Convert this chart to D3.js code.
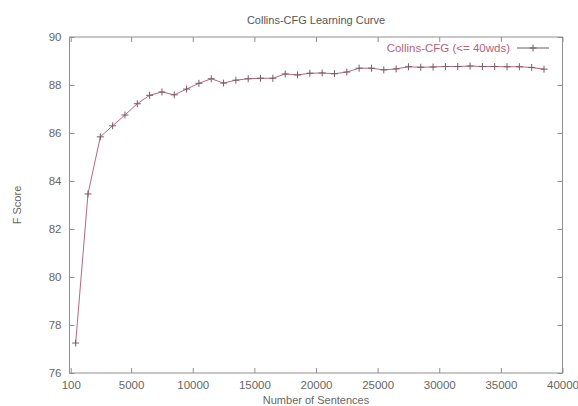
<!DOCTYPE html>
<html><head><meta charset="utf-8">
<script src="https://cdn.jsdelivr.net/npm/d3@7"></script>
<style>body{margin:0;background:#fff}svg text{font-family:"Liberation Sans",Arial,sans-serif}</style>
</head><body><svg id="c" width="578" height="406"></svg>
<script>
const sentences = [500,1500,2500,3500,4500,5500,6500,7500,8500,9500,10500,11500,12500,13500,14500,15500,16500,17500,18500,19500,20500,21500,22500,23500,24500,25500,26500,27500,28500,29500,30500,31500,32500,33500,34500,35500,36500,37500,38500];
const fscore = [77.25,83.46,85.84,86.30,86.75,87.22,87.57,87.71,87.59,87.83,88.07,88.26,88.08,88.20,88.26,88.28,88.28,88.46,88.42,88.49,88.50,88.47,88.54,88.70,88.70,88.63,88.67,88.76,88.74,88.75,88.77,88.77,88.79,88.77,88.77,88.76,88.76,88.73,88.66];
const xTicks = [100,5000,10000,15000,20000,25000,30000,35000,40000];
const yTicks = [76,78,80,82,84,86,88,90];
const title = "Collins-CFG Learning Curve";
const xTitle = "Number of Sentences";
const yTitle = "F Score";
const seriesName = "Collins-CFG (<= 40wds)";

const L=69.5,R=562.5,T=37,B=373;
const svg=d3.select("#c");
const x=d3.scaleLinear().domain([0,40000]).range([L,R]);
const y=d3.scaleLinear().domain([76,90]).range([B,T]);
const axisCol="#8f8f8f", textCol="#666";

const tl=5;
svg.append("g").attr("transform",`translate(0,${B})`).call(d3.axisBottom(x).tickValues(xTicks).tickSizeInner(-tl).tickSizeOuter(0).tickPadding(8).tickFormat(d3.format("d")))
 .call(g=>{g.select(".domain").remove();g.selectAll("line").attr("stroke",axisCol);g.selectAll("text").attr("fill",textCol).attr("font-size",11.5);});
svg.append("g").attr("transform",`translate(0,${T})`).call(d3.axisTop(x).tickValues(xTicks).tickSizeInner(-tl).tickSizeOuter(0).tickFormat(""))
 .call(g=>{g.select(".domain").remove();g.selectAll("line").attr("stroke",axisCol);});
svg.append("g").attr("transform",`translate(${L},0)`).call(d3.axisLeft(y).tickValues(yTicks).tickSizeInner(-tl).tickSizeOuter(0).tickPadding(8))
 .call(g=>{g.select(".domain").remove();g.selectAll("line").attr("stroke",axisCol);g.selectAll("text").attr("fill",textCol).attr("font-size",11.5);});
svg.append("g").attr("transform",`translate(${R},0)`).call(d3.axisRight(y).tickValues(yTicks).tickSizeInner(-tl).tickSizeOuter(0).tickFormat(""))
 .call(g=>{g.select(".domain").remove();g.selectAll("line").attr("stroke",axisCol);});
svg.append("rect").attr("x",L).attr("y",T).attr("width",R-L).attr("height",B-T).attr("fill","none").attr("stroke",axisCol);

svg.append("text").attr("x",(L+R)/2).attr("y",24).attr("text-anchor","middle").attr("font-size",11).attr("fill","#555").text(title);
svg.append("text").attr("x",(L+R)/2).attr("y",404).attr("text-anchor","middle").attr("font-size",11).attr("fill",textCol).text(xTitle);
svg.append("text").attr("transform",`translate(21,${(T+B)/2}) rotate(-90)`).attr("text-anchor","middle").attr("font-size",11).attr("fill",textCol).text(yTitle);

const data=sentences.map((s,i)=>[s,fscore[i]]);
const lineCol="#b8687c", markCol="#7a5a64";
svg.append("path").datum(data).attr("fill","none").attr("stroke",lineCol).attr("stroke-width",1)
 .attr("d",d3.line().x(d=>x(d[0])).y(d=>y(d[1])));
const m=3.5;
const plus=(g,cx,cy,c)=>g.append("path").attr("d",`M${cx-m},${cy}H${cx+m}M${cx},${cy-m}V${cy+m}`).attr("stroke",c).attr("stroke-width",1).attr("fill","none");
const mg=svg.append("g");
data.forEach(d=>plus(mg,x(d[0]),y(d[1]),markCol));

svg.append("text").attr("x",510).attr("y",52).attr("text-anchor","end").attr("font-size",11.5).attr("fill","#b8607a").text(seriesName);
svg.append("line").attr("x1",517).attr("x2",549).attr("y1",48).attr("y2",48).attr("stroke","#6a5a60");
plus(svg,533,48,"#6a5a60");
</script></body></html>
